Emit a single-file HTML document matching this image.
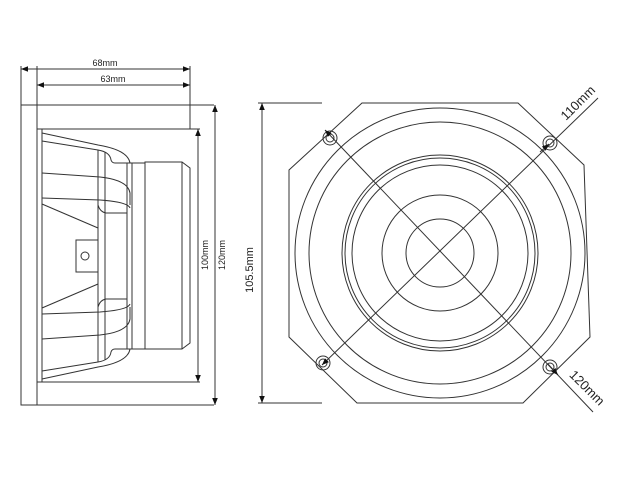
<!DOCTYPE html>
<html><head><meta charset="utf-8"><style>
html,body{margin:0;padding:0;background:#fff;}
svg{display:block;}
text{font-family:"Liberation Sans",sans-serif;fill:#222;}
</style></head><body>
<svg width="640" height="480" viewBox="0 0 640 480" xmlns="http://www.w3.org/2000/svg">
<defs>
<marker id="a" viewBox="0 0 10 10" refX="10" refY="5" markerWidth="7" markerHeight="7" orient="auto-start-reverse" markerUnits="userSpaceOnUse"><path d="M0,1 L10,5 L0,9z" fill="#111"/></marker>
</defs>
<g fill="none" stroke="#333" stroke-width="1">
<!-- side view dims -->
<line x1="21" y1="69" x2="190" y2="69" marker-start="url(#a)" marker-end="url(#a)"/>
<line x1="37" y1="85" x2="190" y2="85" marker-start="url(#a)" marker-end="url(#a)"/>
<line x1="21" y1="66" x2="21" y2="105"/>
<line x1="37" y1="66" x2="37" y2="105"/>
<line x1="190" y1="66" x2="190" y2="129"/>
<rect x="21" y="105" width="16" height="300"/>
<line x1="37" y1="105" x2="214" y2="105"/>
<line x1="37" y1="405" x2="214" y2="405"/>
<line x1="42" y1="129" x2="200" y2="129"/>
<line x1="42" y1="382" x2="200" y2="382"/>
<line x1="198" y1="129" x2="198" y2="382" marker-start="url(#a)" marker-end="url(#a)"/>
<line x1="215" y1="105" x2="215" y2="405" marker-start="url(#a)" marker-end="url(#a)"/>
<!-- basket -->
<rect x="37" y="129" width="5" height="253"/>
<path d="M127,163 V349 M132,163 V349 M127,163 H145 M127,349 H145"/>
<path d="M145,162 H182 L190,168 V343 L182,349 H145 Z"/>
<line x1="182" y1="162" x2="182" y2="349"/>
<line x1="98" y1="150" x2="98" y2="362"/>
<line x1="105" y1="152" x2="105" y2="360"/>
<g id="half">
<path d="M42,133 L98,145 Q128,150 130,163"/>
<path d="M42,141 L98,150 Q110,152 111,160 Q112,163 115,163 H127"/>
<path d="M42,173 L100,177 Q128,180 130,193 V205"/>
<path d="M42,198 L100,200 Q128,202 130,208"/>
<path d="M42,204 L98,228"/>
<path d="M98,205 Q100,212 106,213 H127"/>
<path d="M98,240 H76 V256"/>
</g>
<use href="#half" transform="translate(0,512) scale(1,-1)"/>
<circle cx="85" cy="256" r="4"/>
<!-- front view -->
<path d="M362,103 L518,103 L584,165 L590,337 L523,403 L357,403 L289,337 L289,170 Z"/>
<circle cx="440" cy="253" r="145"/>
<circle cx="440" cy="253" r="131"/>
<circle cx="440" cy="253" r="98"/>
<circle cx="440" cy="253" r="95"/>
<circle cx="440" cy="253" r="88"/>
<circle cx="440" cy="253" r="58"/>
<circle cx="440" cy="253" r="34"/>
<circle cx="330" cy="138" r="7"/><circle cx="330" cy="138" r="4"/>
<circle cx="550" cy="143" r="7"/><circle cx="550" cy="143" r="4"/>
<circle cx="323" cy="363" r="7"/><circle cx="323" cy="363" r="4"/>
<circle cx="550" cy="367" r="7"/><circle cx="550" cy="367" r="4"/>
<line x1="325" y1="130" x2="593" y2="412" marker-start="url(#a)"/>
<line x1="556" y1="373" x2="556" y2="373"/>
<path d="M548,364 L558,375" marker-end="url(#a)"/>
<line x1="322" y1="365" x2="598" y2="98" marker-start="url(#a)"/>
<path d="M540,152 L549,144" marker-end="url(#a)"/>
<line x1="262" y1="103" x2="262" y2="403" marker-start="url(#a)" marker-end="url(#a)"/>
<line x1="258" y1="103" x2="322" y2="103"/>
<line x1="258" y1="403" x2="322" y2="403"/>
</g>
<text x="105" y="66" font-size="9" text-anchor="middle">68mm</text>
<text x="113" y="82" font-size="9" text-anchor="middle">63mm</text>
<text transform="translate(208,255) rotate(-90)" font-size="9" text-anchor="middle">100mm</text>
<text transform="translate(225,255) rotate(-90)" font-size="9" text-anchor="middle">120mm</text>
<text transform="translate(253,270) rotate(-90)" font-size="11" text-anchor="middle">105.5mm</text>
<text transform="translate(581,106) rotate(-45)" font-size="13" text-anchor="middle">110mm</text>
<text transform="translate(584,391) rotate(45)" font-size="13" text-anchor="middle">120mm</text>
</svg>
</body></html>
